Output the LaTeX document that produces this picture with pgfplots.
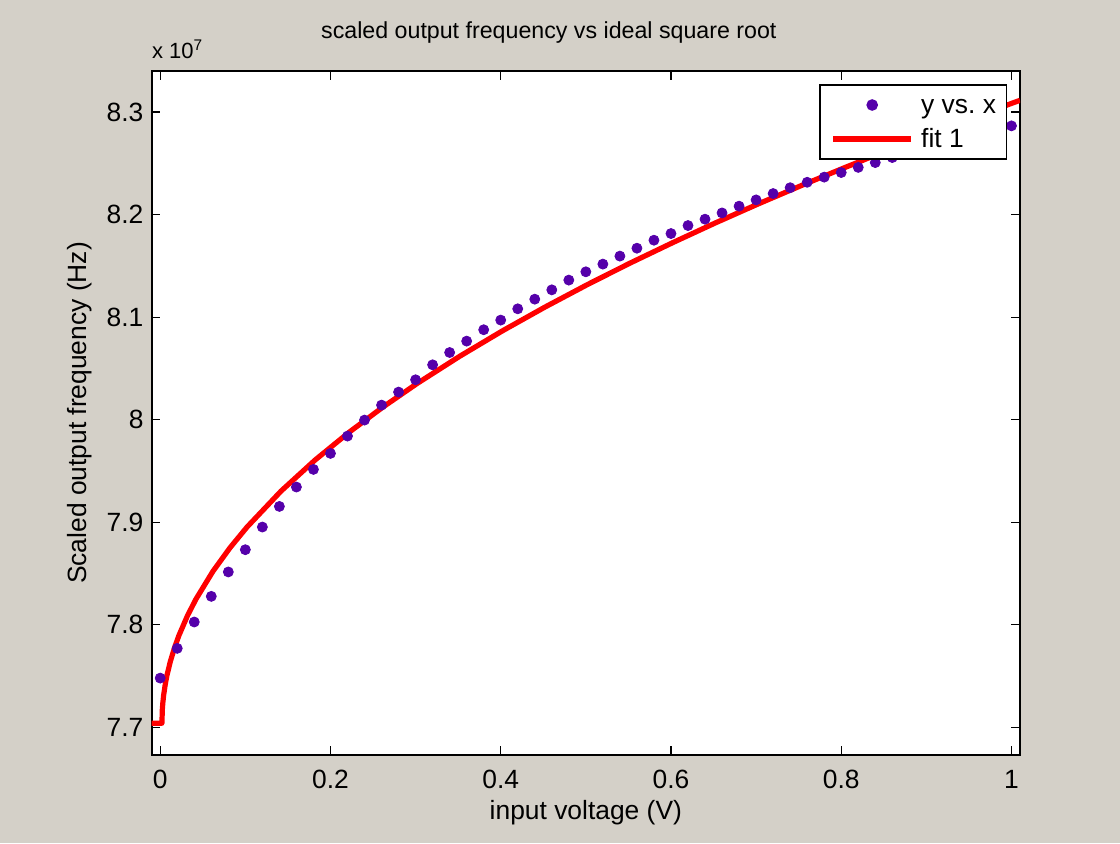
\documentclass[border=0pt]{standalone}
\usepackage{fontspec}
\setmainfont{Liberation Sans}
\usepackage{pgfplots}
\pgfplotsset{compat=1.18}
\definecolor{figgray}{HTML}{D4D0C8}
\definecolor{dotpurple}{HTML}{5500AA}

\begin{document}
\begin{tikzpicture}
\fill[figgray] (-75.85pt,-44pt) rectangle (484.15pt,377.5pt);
\begin{axis}[
  at={(0,0)}, anchor=south west,
  width=434.15pt, height=342pt, scale only axis,
  xmin=-0.01, xmax=1.01, ymin=7.673, ymax=8.340,
  xtick={0,0.2,0.4,0.6,0.8,1},
  ytick={7.7,7.8,7.9,8,8.1,8.2,8.3},
  font=\fontsize{13.2}{16}\selectfont,
  /pgf/number format/assume math mode=true,
  axis background/.style={fill=white},
  axis line style={line width=1pt},
  tick align=inside, major tick length=4.3pt,
  every tick/.style={black, line width=0.6pt},
  yticklabel style={xshift=-0.6pt},
  xticklabel style={yshift=-3.9pt},
  title={scaled output frequency vs ideal square root},
  title style={at={(axis description cs:0.4574,1.0307)}, anchor=base, inner sep=0pt,
    font=\fontsize{11.6}{14}\selectfont},
  xlabel={input voltage (V)},
  xlabel style={at={(axis description cs:0.5,-0.095)}, anchor=base, inner sep=0pt},
  ylabel={Scaled output frequency (Hz)},
  ylabel style={at={(axis description cs:-0.0824,0.5)}, anchor=center, inner sep=0pt},
  legend image code/.code={\draw[mark repeat=2,mark phase=2,#1] plot coordinates {(0pt,0pt) (19.5pt,0pt) (39pt,0pt)};},
  legend style={at={(axis description cs:0.9855,0.981)}, anchor=north east,
    draw=black, line width=0.8pt, fill=white,
    inner xsep=5.3pt, inner ysep=4.1pt, column sep=3.7pt, row sep=5pt,
    nodes={inner sep=0pt, text height=10.5pt, text depth=1.5pt}, cells={anchor=west}},
]
\addplot[only marks, mark=*, mark size=2.5pt, color=dotpurple] coordinates {
(0,7.748) (0.02,7.777) (0.04,7.8027) (0.06,7.8277) (0.08,7.8515)
(0.10,7.8732) (0.12,7.8953) (0.14,7.9154) (0.16,7.9343) (0.18,7.9515)
(0.20,7.9671) (0.22,7.9840) (0.24,7.9996) (0.26,8.0142) (0.28,8.0269)
(0.30,8.0389) (0.32,8.0535) (0.34,8.0655) (0.36,8.0766) (0.38,8.0877)
(0.40,8.0971) (0.42,8.1081) (0.44,8.1175) (0.46,8.1266) (0.48,8.1361)
(0.50,8.1442) (0.52,8.1517) (0.54,8.1595) (0.56,8.1672) (0.58,8.1750)
(0.60,8.1815) (0.62,8.1893) (0.64,8.1955) (0.66,8.2016) (0.68,8.2082)
(0.70,8.2143) (0.72,8.2205) (0.74,8.2262) (0.76,8.2315) (0.78,8.2365)
(0.80,8.2410) (0.82,8.2460) (0.84,8.2507) (0.86,8.2556) (0.88,8.2600)
(0.90,8.2645) (0.92,8.2690) (0.94,8.2735) (0.96,8.2780) (0.98,8.2822)
(1.00,8.2865)
};
\addlegendentry{y vs.\ x}
\addplot[color=red, line width=2.6pt, line join=round] coordinates {
(-0.01,7.704) (0.002,7.704) (0.0025,7.7175) (0.003,7.7231) (0.004,7.7311)
(0.006,7.7423) (0.008,7.7509) (0.012,7.7645) (0.017,7.7781) (0.022,7.7896)
(0.032,7.8088) (0.042,7.825) (0.062,7.8522) (0.082,7.8751) (0.102,7.8953)
(0.142,7.9304) (0.182,7.9607) (0.222,7.9878) (0.262,8.0125) (0.302,8.0354)
(0.352,8.0619) (0.402,8.0866) (0.452,8.1098) (0.502,8.1318) (0.552,8.1527)
(0.602,8.1726) (0.652,8.1918) (0.702,8.2102) (0.752,8.2279) (0.802,8.2451)
(0.852,8.2618) (0.902,8.2780) (0.952,8.2937) (1.002,8.309) (1.01,8.3114)
};
\addlegendentry{fit 1}
\end{axis}
\node[anchor=base west, inner sep=0pt, font=\fontsize{11}{13}\selectfont] at (0pt,348.3pt) {x 10\textsuperscript{7}};
\pgfresetboundingbox
\path[use as bounding box] (-75.85pt,-44pt) rectangle (484.15pt,377.5pt);
\end{tikzpicture}
\end{document}
